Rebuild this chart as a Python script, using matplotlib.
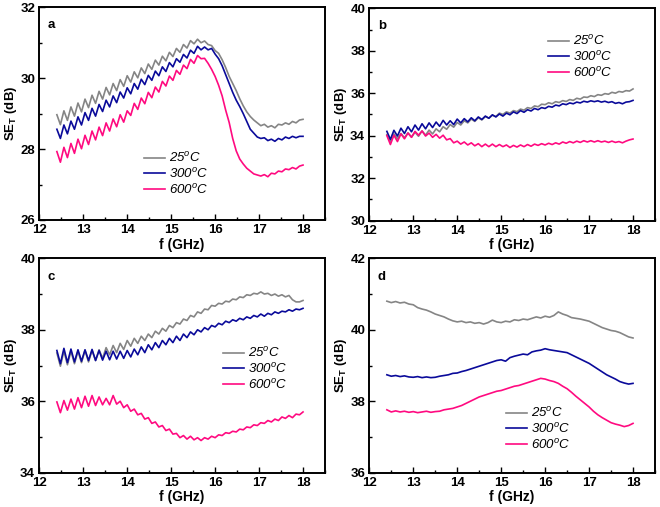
import numpy as np
import matplotlib
matplotlib.use("Agg")
import matplotlib.pyplot as plt
from matplotlib.ticker import MultipleLocator

plt.rcParams['font.family'] = ['Liberation Sans', 'DejaVu Sans']
plt.rcParams['mathtext.fontset'] = 'custom'
plt.rcParams['mathtext.rm'] = 'Liberation Sans'
plt.rcParams['mathtext.it'] = 'Liberation Sans:italic'
plt.rcParams['mathtext.bf'] = 'Liberation Sans:bold'

# frequency grids (GHz)
freq_abc = np.linspace(12.4, 18.0, 71)
freq_d = np.linspace(12.4, 18.0, 57)

labels = ['25$^{o}$C', '300$^{o}$C', '600$^{o}$C']

# ---- panel a ----
a_25 = [28.97, 28.69, 29.08, 28.81, 29.19, 28.93, 29.30, 29.05, 29.41, 29.17,
        29.52, 29.29, 29.63, 29.41, 29.74, 29.53, 29.85, 29.65, 29.96, 29.77,
        30.07, 29.89, 30.18, 30.01, 30.29, 30.13, 30.40, 30.25, 30.51, 30.37,
        30.62, 30.49, 30.73, 30.61, 30.84, 30.73, 30.95, 30.85, 31.06, 30.97,
        31.10, 31.00, 31.05, 30.95, 30.92, 30.78, 30.70, 30.52, 30.30, 30.05,
        29.85, 29.65, 29.42, 29.22, 29.05, 28.92, 28.82, 28.74, 28.66, 28.70,
        28.62, 28.66, 28.60, 28.70, 28.68, 28.74, 28.70, 28.78, 28.74, 28.82,
        28.84]
a_300 = [28.56, 28.30, 28.68, 28.43, 28.79, 28.56, 28.91, 28.68, 29.03, 28.81,
         29.15, 28.93, 29.26, 29.06, 29.38, 29.19, 29.50, 29.31, 29.61, 29.44,
         29.73, 29.56, 29.85, 29.69, 29.97, 29.82, 30.08, 29.94, 30.20, 30.07,
         30.32, 30.19, 30.44, 30.32, 30.55, 30.45, 30.67, 30.57, 30.79, 30.70,
         30.90, 30.80, 30.88, 30.80, 30.84, 30.68, 30.55, 30.35, 30.10, 29.85,
         29.60, 29.38, 29.20, 29.00, 28.78, 28.56, 28.45, 28.34, 28.30, 28.32,
         28.24, 28.28, 28.22, 28.30, 28.26, 28.34, 28.30, 28.36, 28.32, 28.36,
         28.36]
a_600 = [27.93, 27.63, 28.05, 27.76, 28.16, 27.88, 28.28, 28.01, 28.39, 28.13,
         28.51, 28.26, 28.62, 28.38, 28.74, 28.51, 28.85, 28.63, 28.97, 28.76,
         29.08, 28.95, 29.29, 29.12, 29.44, 29.28, 29.60, 29.45, 29.75, 29.61,
         29.91, 29.78, 30.06, 29.94, 30.22, 30.11, 30.37, 30.27, 30.53, 30.42,
         30.64, 30.55, 30.56, 30.42, 30.25, 30.05, 29.80, 29.50, 29.10, 28.75,
         28.30, 27.95, 27.72, 27.58, 27.46, 27.38, 27.30, 27.27, 27.24, 27.28,
         27.22, 27.32, 27.30, 27.38, 27.36, 27.44, 27.42, 27.48, 27.44, 27.52,
         27.55]

# ---- panel b ----
b_25 = [34.05, 33.72, 34.08, 33.85, 34.10, 33.90, 34.13, 33.93, 34.16, 33.97,
        34.22, 34.02, 34.26, 34.08, 34.32, 34.18, 34.42, 34.30, 34.52, 34.40,
        34.62, 34.50, 34.70, 34.60, 34.78, 34.67, 34.84, 34.74, 34.90, 34.82,
        34.96, 34.90, 35.06, 35.00, 35.12, 35.06, 35.18, 35.13, 35.25, 35.20,
        35.32, 35.28, 35.40, 35.36, 35.48, 35.46, 35.55, 35.50, 35.60, 35.56,
        35.65, 35.61, 35.70, 35.66, 35.76, 35.72, 35.82, 35.80, 35.88, 35.84,
        35.93, 35.90, 35.98, 35.95, 36.04, 36.00, 36.08, 36.05, 36.12, 36.10,
        36.20]
b_300 = [34.20, 33.82, 34.25, 33.98, 34.35, 34.10, 34.42, 34.18, 34.50, 34.26,
         34.56, 34.32, 34.60, 34.38, 34.64, 34.44, 34.72, 34.50, 34.70, 34.52,
         34.78, 34.60, 34.80, 34.65, 34.84, 34.70, 34.88, 34.76, 34.92, 34.82,
         34.98, 34.88, 35.02, 34.92, 35.06, 34.98, 35.12, 35.04, 35.18, 35.10,
         35.22, 35.16, 35.28, 35.22, 35.32, 35.28, 35.38, 35.34, 35.44, 35.40,
         35.50, 35.46, 35.54, 35.50, 35.58, 35.54, 35.62, 35.58, 35.64, 35.60,
         35.64, 35.58, 35.62, 35.56, 35.60, 35.52, 35.56, 35.50, 35.58, 35.60,
         35.66]
b_600 = [34.00, 33.58, 34.02, 33.72, 34.08, 33.85, 34.12, 33.92, 34.20, 34.02,
         34.22, 33.98, 34.12, 33.92, 34.06, 33.88, 34.02, 33.80, 33.86, 33.66,
         33.74, 33.60, 33.70, 33.56, 33.66, 33.52, 33.62, 33.48, 33.60, 33.48,
         33.60, 33.48, 33.58, 33.48, 33.56, 33.44, 33.54, 33.46, 33.56, 33.48,
         33.58, 33.50, 33.60, 33.54, 33.62, 33.56, 33.64, 33.58, 33.66, 33.60,
         33.70, 33.64, 33.72, 33.66, 33.74, 33.68, 33.76, 33.70, 33.76, 33.70,
         33.76, 33.70, 33.74, 33.68, 33.74, 33.68, 33.72, 33.66, 33.74, 33.80,
         33.84]

# ---- panel c ----
c_25 = [37.35, 36.98, 37.40, 37.02, 37.40, 37.05, 37.40, 37.08, 37.42, 37.10,
        37.42, 37.14, 37.44, 37.20, 37.50, 37.30, 37.56, 37.36, 37.62, 37.45,
        37.70, 37.54, 37.76, 37.62, 37.82, 37.70, 37.88, 37.78, 37.96, 37.88,
        38.04, 37.96, 38.12, 38.06, 38.20, 38.16, 38.30, 38.26, 38.40, 38.36,
        38.50, 38.46, 38.58, 38.56, 38.68, 38.66, 38.74, 38.72, 38.80, 38.78,
        38.86, 38.84, 38.92, 38.90, 38.98, 38.96, 39.02, 39.00, 39.06, 39.00,
        39.02, 38.96, 39.00, 38.94, 38.98, 38.92, 38.96, 38.84, 38.78, 38.78,
        38.82]
c_300 = [37.42, 37.05, 37.48, 37.08, 37.46, 37.10, 37.44, 37.12, 37.44, 37.14,
         37.45, 37.14, 37.42, 37.15, 37.40, 37.16, 37.40, 37.18, 37.40, 37.20,
         37.42, 37.24, 37.46, 37.30, 37.52, 37.36, 37.58, 37.44, 37.64, 37.50,
         37.70, 37.58, 37.76, 37.64, 37.82, 37.70, 37.88, 37.78, 37.94, 37.86,
         38.00, 37.94, 38.06, 38.00, 38.12, 38.08, 38.18, 38.14, 38.24, 38.20,
         38.28, 38.24, 38.32, 38.28, 38.36, 38.32, 38.40, 38.36, 38.44, 38.38,
         38.46, 38.42, 38.50, 38.46, 38.52, 38.50, 38.56, 38.52, 38.58, 38.56,
         38.60]
c_600 = [35.98, 35.68, 36.02, 35.75, 36.06, 35.78, 36.10, 35.82, 36.14, 35.86,
         36.16, 35.88, 36.12, 35.90, 36.08, 35.90, 36.16, 35.92, 36.00, 35.82,
         35.90, 35.72, 35.78, 35.62, 35.66, 35.50, 35.54, 35.38, 35.42, 35.28,
         35.32, 35.18, 35.22, 35.08, 35.10, 34.98, 35.04, 34.94, 35.02, 34.92,
         34.98, 34.90, 34.98, 34.94, 35.02, 34.98, 35.06, 35.04, 35.12, 35.10,
         35.16, 35.14, 35.22, 35.20, 35.28, 35.26, 35.34, 35.32, 35.40, 35.38,
         35.46, 35.42, 35.50, 35.46, 35.56, 35.52, 35.60, 35.54, 35.64, 35.62,
         35.70]

# ---- panel d ----
d_25 = [40.80, 40.76, 40.79, 40.75, 40.77, 40.72, 40.70, 40.62, 40.58, 40.55,
        40.50, 40.44, 40.40, 40.36, 40.30, 40.25, 40.22, 40.24, 40.20, 40.22,
        40.18, 40.20, 40.16, 40.20, 40.27, 40.22, 40.20, 40.24, 40.22, 40.28,
        40.26, 40.30, 40.28, 40.32, 40.36, 40.33, 40.38, 40.35, 40.40, 40.50,
        40.44, 40.40, 40.34, 40.32, 40.30, 40.27, 40.24, 40.18, 40.12, 40.06,
        40.02, 39.98, 39.96, 39.92, 39.86, 39.80, 39.77]
d_300 = [38.74, 38.70, 38.72, 38.69, 38.71, 38.68, 38.67, 38.69, 38.66, 38.68,
         38.66, 38.67, 38.70, 38.72, 38.74, 38.78, 38.79, 38.83, 38.86, 38.90,
         38.94, 38.98, 39.02, 39.06, 39.10, 39.14, 39.16, 39.12, 39.22, 39.26,
         39.29, 39.32, 39.30, 39.38, 39.41, 39.43, 39.47, 39.44, 39.42, 39.40,
         39.38, 39.36, 39.30, 39.24, 39.18, 39.12, 39.06, 38.98, 38.90, 38.82,
         38.74, 38.68, 38.62, 38.55, 38.51, 38.48, 38.50]
d_600 = [37.76, 37.70, 37.73, 37.70, 37.72, 37.69, 37.71, 37.68, 37.70, 37.72,
         37.69, 37.71, 37.72, 37.76, 37.78, 37.80, 37.84, 37.88, 37.94, 38.00,
         38.06, 38.12, 38.16, 38.20, 38.24, 38.28, 38.30, 38.34, 38.38, 38.42,
         38.44, 38.48, 38.52, 38.56, 38.60, 38.64, 38.62, 38.58, 38.55, 38.50,
         38.42, 38.35, 38.25, 38.14, 38.04, 37.94, 37.84, 37.72, 37.62, 37.54,
         37.47, 37.40, 37.36, 37.33, 37.29, 37.32, 37.38]

colors = ['#858585', '#0a0a9a', '#ff0a80']

panels = [
    ('a', freq_abc, [a_25, a_300, a_600], (26, 32), [39.3, 220.0, 325.0, 7.3], (0.348, 0.348)),
    ('b', freq_abc, [b_25, b_300, b_600], (30, 40), [369.3, 220.5, 655.0, 8.3], (0.607, 0.902)),
    ('c', freq_abc, [c_25, c_300, c_600], (34, 40), [39.3, 472.7, 325.0, 258.3], (0.624, 0.614)),
    ('d', freq_d, [d_25, d_300, d_600], (36, 42), [369.3, 472.7, 655.0, 258.3], (0.46, 0.334)),
]

W, H = 660, 507
fig = plt.figure(figsize=(6.6, 5.07), dpi=100)

for letter, fx, series, ylim, box, legpos in panels:
    x0, yb, x1, yt = box
    ax = fig.add_axes([x0 / W, 1 - yb / H, (x1 - x0) / W, (yb - yt) / H])
    for vals, col, lab in zip(series, colors, labels):
        ax.plot(fx, vals, color=col, lw=1.2, label=lab)
    ax.set_xlim(12, 18.5)
    ax.set_ylim(*ylim)
    ax.xaxis.set_major_locator(MultipleLocator(1))
    ax.xaxis.set_minor_locator(MultipleLocator(0.5))
    ax.yaxis.set_major_locator(MultipleLocator(2))
    ax.yaxis.set_minor_locator(MultipleLocator(1))
    ax.tick_params(which='both', direction='in', top=False, right=False,
                   width=1.0, labelsize=9.5, pad=3)
    ax.tick_params(which='major', length=4)
    ax.tick_params(which='minor', length=2.5)
    for t in ax.get_xticklabels() + ax.get_yticklabels():
        t.set_fontweight('bold')
    for s in ax.spines.values():
        s.set_linewidth(1.4)
    ax.set_xlabel('f (GHz)', fontsize=10, fontweight='bold', labelpad=1)
    ax.set_ylabel(r'SE$_{\mathbf{T}}$ (dB)', fontsize=9.5, fontweight='bold', labelpad=1)
    ax.text(0.03, 0.915, letter, transform=ax.transAxes, fontsize=9.5,
            fontweight='bold', va='center', ha='left')
    ax.legend(loc='upper left', bbox_to_anchor=legpos, frameon=False,
              handlelength=1.6, handletextpad=0.3, labelspacing=0.12,
              borderaxespad=0, prop={'size': 9.5, 'style': 'italic'})

fig.savefig('out.png', dpi=100)
